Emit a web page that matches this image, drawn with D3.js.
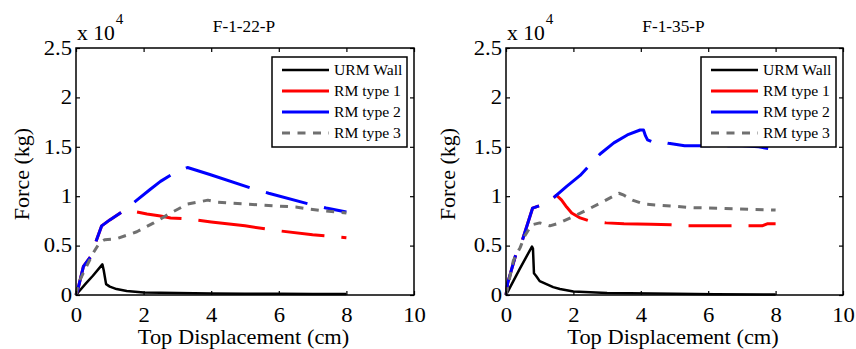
<!DOCTYPE html>
<html><head><meta charset="utf-8">
<script src="https://cdn.jsdelivr.net/npm/d3@7"></script>
<style>
body{margin:0;background:#fff;}
svg{display:block;}
svg text{font-family:"Liberation Serif","Tinos","Times New Roman","DejaVu Serif",serif !important;fill:#000;}
</style></head>
<body><svg id="c" width="856" height="349"></svg>
<script>
// ---- data (force in units of 10^4 kg, displacement in cm) ----
const titles = ["F-1-22-P", "F-1-35-P"];
const seriesNames = ["URM Wall", "RM type 1", "RM type 2", "RM type 3"];
const xTicks = [0, 2, 4, 6, 8, 10];
const yTicks = [0, 0.5, 1, 1.5, 2, 2.5];
const yTickLabels = ["0", "0.5", "1", "1.5", "2", "2.5"];

// F-1-22-P
const urm22X = [0, 0.1, 0.3, 0.5, 0.78, 0.82, 0.89, 1.0, 1.2, 1.5, 2.0, 3.0, 4, 5, 6, 7, 8];
const urm22Y = [0, 0.04, 0.12, 0.195, 0.31, 0.25, 0.11, 0.085, 0.06, 0.04, 0.025, 0.02, 0.015, 0.013, 0.012, 0.011, 0.01];
const rm1_22X = [0, 0.05, 0.22, 0.46, 0.61, 0.76, 1.0, 1.45, 1.6, 1.8, 2.1, 2.5, 2.8, 3.3, 4, 5, 6, 7, 8];
const rm1_22Y = [0, 0.05, 0.29, 0.40, 0.56, 0.70, 0.76, 0.86, 0.86, 0.84, 0.82, 0.80, 0.78, 0.77, 0.74, 0.70, 0.65, 0.61, 0.58];
const rm2_22X = [0, 0.05, 0.22, 0.46, 0.61, 0.76, 1.0, 1.45, 1.8, 2.2, 2.5, 2.88, 3.3, 3.96, 5.2, 5.7, 6.9, 7.4, 8];
const rm2_22Y = [0, 0.05, 0.29, 0.40, 0.56, 0.70, 0.76, 0.86, 0.96, 1.07, 1.15, 1.23, 1.29, 1.22, 1.08, 1.03, 0.92, 0.88, 0.84];
const rm3_22X = [0, 0.07, 0.27, 0.5, 0.7, 0.85, 1.2, 1.8, 2.3, 2.8, 3.3, 3.9, 4.2, 4.6, 6.0, 6.5, 6.9, 7.4, 8];
const rm3_22Y = [0, 0.12, 0.26, 0.42, 0.53, 0.56, 0.57, 0.64, 0.73, 0.83, 0.92, 0.96, 0.94, 0.93, 0.90, 0.89, 0.87, 0.85, 0.83];

// F-1-35-P
const urm35X = [0, 0.1, 0.4, 0.77, 0.8, 0.83, 0.9, 1.0, 1.2, 1.4, 1.6, 2.0, 3.0, 5.0, 6.2, 8];
const urm35Y = [0, 0.065, 0.26, 0.49, 0.47, 0.22, 0.19, 0.14, 0.11, 0.08, 0.06, 0.035, 0.02, 0.012, 0.008, 0.005];
const rm1_35X = [0, 0.05, 0.3, 0.49, 0.79, 1.04, 1.3, 1.5, 1.65, 1.8, 1.95, 2.2, 2.47, 2.97, 3.5, 4.3, 4.9, 5.2, 6, 7, 7.6, 7.75, 8];
const rm1_35Y = [0, 0.12, 0.42, 0.56, 0.88, 0.91, 0.95, 1.01, 0.96, 0.89, 0.83, 0.78, 0.75, 0.73, 0.72, 0.715, 0.71, 0.70, 0.70, 0.70, 0.70, 0.72, 0.72];
const rm2_35X = [0, 0.05, 0.3, 0.49, 0.79, 1.04, 1.3, 1.5, 1.8, 2.2, 2.5, 2.8, 3.2, 3.6, 3.98, 4.08, 4.14, 4.2, 4.37, 4.5, 4.6, 4.82, 5.3, 6, 7, 7.5, 7.8, 8];
const rm2_35Y = [0, 0.12, 0.42, 0.56, 0.88, 0.91, 0.95, 1.01, 1.10, 1.21, 1.32, 1.43, 1.54, 1.62, 1.67, 1.67, 1.61, 1.57, 1.545, 1.56, 1.55, 1.535, 1.51, 1.51, 1.51, 1.50, 1.48, 1.475];
const rm3_35X = [0, 0.22, 0.42, 0.56, 0.76, 1.0, 1.3, 1.55, 2.1, 2.8, 3.35, 3.5, 3.75, 4.1, 4.5, 5.5, 6.5, 8];
const rm3_35Y = [0, 0.35, 0.48, 0.60, 0.71, 0.73, 0.70, 0.725, 0.81, 0.93, 1.03, 1.01, 0.96, 0.92, 0.91, 0.885, 0.875, 0.86];

const panels = [
  {title: titles[0], left: 76, right: 414, yLabelX: 28.5, series: [[urm22X, urm22Y], [rm1_22X, rm1_22Y], [rm2_22X, rm2_22Y], [rm3_22X, rm3_22Y]]},
  {title: titles[1], left: 506, right: 843, yLabelX: 454.5, series: [[urm35X, urm35Y], [rm1_35X, rm1_35Y], [rm2_35X, rm2_35Y], [rm3_35X, rm3_35Y]]}
];

const styles = [
  {color: "#000000", width: 2.5, dash: null},
  {color: "#ff0000", width: 3, dash: "41,17,40,17,45,17,67,17,43,17"},
  {color: "#0000ff", width: 3, dash: "41,17,40,17,45,17,67,17,43,17"},
  {color: "#707070", width: 3, dash: "8,7.5"}
];

const FONT = "'Liberation Serif','Tinos','Times New Roman','DejaVu Serif',serif";
const SX = 1.08; // horizontal text stretch seen in the reference
const svg = d3.select("#c");
svg.append("rect").attr("width", 856).attr("height", 349).attr("fill", "#fff");
const plotTop = 48, plotBottom = 295;

function label(g, x, y, txt, size, anchor, sx) {
  return g.append("text").attr("transform", `translate(${x},${y}) scale(${sx || SX},1)`)
    .attr("text-anchor", anchor || "start").style("font-size", size + "px").text(txt);
}

panels.forEach(p => {
  const x = d3.scaleLinear().domain([0, 10]).range([p.left, p.right]);
  const y = d3.scaleLinear().domain([0, 2.5]).range([plotBottom, plotTop]);
  const g = svg.append("g").attr("font-family", FONT);
  const cx = (p.left + p.right) / 2;

  // curves
  const line = d3.line().x(d => x(d[0])).y(d => y(d[1]));
  p.series.forEach((s, i) => {
    const pts = s[0].map((v, k) => [v, s[1][k]]);
    const st = styles[i];
    g.append("path").datum(pts).attr("d", line)
      .attr("fill", "none").attr("stroke", st.color).attr("stroke-width", st.width)
      .attr("stroke-linejoin", "round")
      .attr("stroke-dasharray", st.dash);
  });

  // axes (inward ticks)
  const ax = g.append("g").attr("transform", `translate(0,${plotBottom})`)
    .call(d3.axisBottom(x).tickValues(xTicks).tickSizeInner(-4).tickSizeOuter(0).tickFormat(d3.format("d")));
  const ay = g.append("g").attr("transform", `translate(${p.left},0)`)
    .call(d3.axisLeft(y).tickValues(yTicks).tickSizeInner(-4).tickSizeOuter(0).tickFormat((d, i) => yTickLabels[i]));
  const axT = g.append("g").attr("transform", `translate(0,${plotTop})`)
    .call(d3.axisTop(x).tickValues(xTicks).tickSizeInner(-4).tickSizeOuter(0).tickFormat(""));
  const ayR = g.append("g").attr("transform", `translate(${p.right},0)`)
    .call(d3.axisRight(y).tickValues(yTicks).tickSizeInner(-4).tickSizeOuter(0).tickFormat(""));
  [ax, ay, axT, ayR].forEach(a => {
    a.attr("font-family", FONT).attr("font-size", 21);
    a.select(".domain").remove();
    a.selectAll(".tick line").attr("stroke", "#000").attr("stroke-width", 1.2);
    a.selectAll("text").style("font-size", "21px").attr("fill", "#000");
  });
  ax.selectAll("text").attr("x", null).attr("y", null).attr("dy", null)
    .attr("transform", `translate(0,26.5) scale(${SX},1)`);
  ay.selectAll("text").attr("x", null).attr("dy", "0.3em")
    .attr("transform", `translate(-4,0) scale(${SX},1)`);

  g.append("rect").attr("x", p.left).attr("y", plotTop)
    .attr("width", p.right - p.left).attr("height", plotBottom - plotTop)
    .attr("fill", "none").attr("stroke", "#000").attr("stroke-width", 1.5);

  // exponent
  const ex = label(g, p.left + 1, 40, "", 20);
  ex.append("tspan").text("x 10");
  ex.append("tspan").style("font-size", "14px").attr("dy", "-16").attr("dx", "1").text("4");

  // title
  label(g, cx - 1, 32, p.title, 16, "middle");

  // axis labels
  label(g, cx - 1.5, 344, "Top Displacement (cm)", 22, "middle", 1.02);
  g.append("text").attr("transform", `translate(${p.yLabelX},174) rotate(-90)`)
    .attr("text-anchor", "middle").style("font-size", "22px").text("Force (kg)");

  // legend
  const lx = p.right - 142, ly = 57, lw = 135, lh = 90;
  const lg = g.append("g");
  lg.append("rect").attr("x", lx).attr("y", ly).attr("width", lw).attr("height", lh)
    .attr("fill", "#fff").attr("stroke", "#000").attr("stroke-width", 1.5);
  seriesNames.forEach((n, i) => {
    const yy = ly + 13 + i * 21;
    const st = styles[i];
    lg.append("line").attr("x1", lx + 10).attr("x2", lx + 57).attr("y1", yy).attr("y2", yy)
      .attr("stroke", st.color).attr("stroke-width", st.width)
      .attr("stroke-dasharray", i === 3 ? st.dash : null);
    label(lg, lx + 62, yy + 5, n, 14.5);
  });
});
</script></body></html>
